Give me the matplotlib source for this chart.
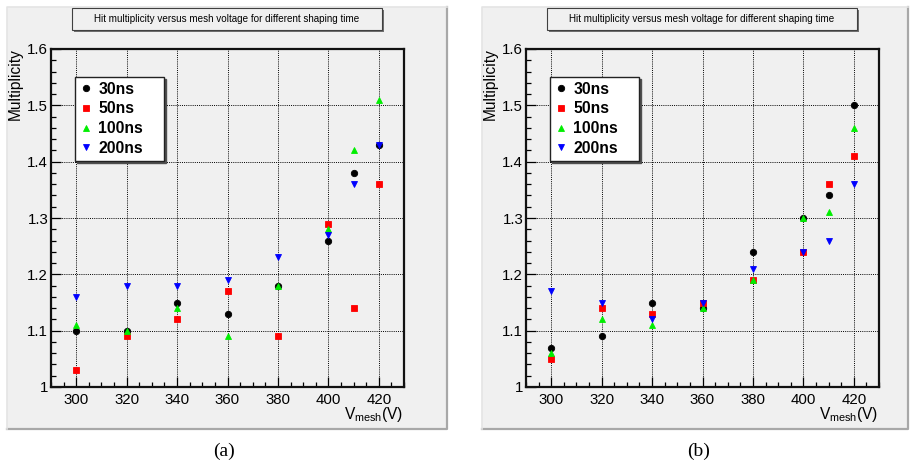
import matplotlib
matplotlib.use("Agg")
import matplotlib.pyplot as plt
from matplotlib.patches import Rectangle
from matplotlib.ticker import MultipleLocator

plt.rcParams['font.family'] = ['Liberation Sans', 'DejaVu Sans']
plt.rcParams['mathtext.fontset'] = 'custom'
plt.rcParams['mathtext.rm'] = 'Liberation Sans'

# Mesh voltages (V)
voltage = [300, 320, 340, 360, 380, 400, 410, 420]

# Panel (a): hit multiplicity per shaping time
a_30ns = [1.10, 1.10, 1.15, 1.13, 1.18, 1.26, 1.38, 1.43]
a_50ns = [1.03, 1.09, 1.12, 1.17, 1.09, 1.29, 1.14, 1.36]
a_100ns = [1.11, 1.10, 1.14, 1.09, 1.18, 1.28, 1.42, 1.51]
a_200ns = [1.16, 1.18, 1.18, 1.19, 1.23, 1.27, 1.36, 1.43]

# Panel (b): hit multiplicity per shaping time
b_30ns = [1.07, 1.09, 1.15, 1.14, 1.24, 1.30, 1.34, 1.50]
b_50ns = [1.05, 1.14, 1.13, 1.15, 1.19, 1.24, 1.36, 1.41]
b_100ns = [1.06, 1.12, 1.11, 1.14, 1.19, 1.30, 1.31, 1.46]
b_200ns = [1.17, 1.15, 1.12, 1.15, 1.21, 1.24, 1.26, 1.36]

series_labels = ['30ns', '50ns', '100ns', '200ns']
title_text = 'Hit multiplicity versus mesh voltage for different shaping time'
captions = ['(a)', '(b)']

W, H = 911, 475
fig = plt.figure(figsize=(W / 100, H / 100), dpi=100)
fig.patch.set_facecolor('white')

CANVAS = '#f0f0f0'
styles = [
    dict(marker='o', color='black', ms=4.6),
    dict(marker='s', color='#ff0000', ms=4.4),
    dict(marker='^', color='#00ee00', ms=3.8),
    dict(marker='v', color='#0000ff', ms=3.8),
]


def px_rect(x0, y0, x1, y1):
    """Figure-fraction rectangle from pixel corners (origin top-left)."""
    return (x0 / W, 1 - y1 / H, (x1 - x0) / W, (y1 - y0) / H)


def draw_panel(offset, canvas_right, data, caption):
    # canvas with bevelled edge
    l, b, w, h = px_rect(7 + offset, 7, canvas_right, 429)
    fig.patches.append(Rectangle((l, b), w, h, transform=fig.transFigure,
                                 facecolor=CANVAS, edgecolor='none', zorder=0))
    fig.lines.append(plt.Line2D([l, l + w, l + w], [b, b, b + h],
                                transform=fig.transFigure, color='#a8a8a8', lw=1.6, zorder=1))
    fig.lines.append(plt.Line2D([l, l, l + w], [b, b + h, b + h],
                                transform=fig.transFigure, color='#e4e4e4', lw=1.2, zorder=1))

    # title box with shadow
    tl, tb, tw, th = px_rect(72 + offset, 8, 382 + offset, 30)
    sdx, sdy = 2 / W, 2 / H
    fig.patches.append(Rectangle((tl + sdx, tb - sdy), tw, th, transform=fig.transFigure,
                                 facecolor='#707070', edgecolor='none', zorder=2))
    fig.patches.append(Rectangle((tl, tb), tw, th, transform=fig.transFigure,
                                 facecolor=CANVAS, edgecolor='#404040', lw=0.8, zorder=3))
    fig.text(tl + tw / 2, tb + th / 2, title_text, ha='center', va='center',
             fontsize=7.1, zorder=4)

    # plotting frame
    ax = fig.add_axes(px_rect(51 + offset, 49, 404 + offset, 387))
    ax.set_facecolor(CANVAS)
    ax.set_zorder(5)
    for s, st, lab in zip(data, styles, series_labels):
        ax.plot(voltage, s, linestyle='none', marker=st['marker'], color=st['color'],
                markersize=st['ms'], markeredgewidth=0.6, label=lab, zorder=4)

    ax.set_xlim(290, 430)
    ax.set_ylim(1.0, 1.6)
    ax.xaxis.set_minor_locator(MultipleLocator(5))
    ax.yaxis.set_minor_locator(MultipleLocator(0.02))
    ax.set_xticks([300, 320, 340, 360, 380, 400, 420])
    ax.set_yticks([1.0, 1.1, 1.2, 1.3, 1.4, 1.5, 1.6])
    ax.set_yticklabels(['1', '1.1', '1.2', '1.3', '1.4', '1.5', '1.6'])
    ax.tick_params(which='both', direction='in', top=False, right=False, colors='black')
    ax.tick_params(which='major', length=7, width=0.9, labelsize=10.8)
    ax.tick_params(which='minor', length=3.6, width=0.9)
    ax.tick_params(axis='y', which='major', pad=2)
    ax.tick_params(axis='x', which='major', pad=4)
    ax.grid(True, which='major', linestyle=(0, (1, 1.2)), color='black', linewidth=0.7)
    for sp in ax.spines.values():
        sp.set_linewidth(1.6)
        sp.set_color('#111111')

    # legend box spanning a fixed region of the frame
    lw_ax = 89 / 353.0
    lh_ax = 84 / 338.0
    leg = ax.legend(loc='upper left', bbox_to_anchor=(0.069, 0.917 - lh_ax, lw_ax, lh_ax),
                    mode='expand', frameon=True, fancybox=False,
                    shadow={'color': '#505050', 'alpha': 1.0, 'ox': 1.5, 'oy': -1.5},
                    prop={'family': 'Liberation Sans', 'weight': 'bold', 'size': 11.3},
                    handlelength=0.7, handletextpad=0.45, borderpad=0.3,
                    labelspacing=0.3, borderaxespad=0, markerscale=1.0)
    leg.get_frame().set_facecolor('white')
    leg.get_frame().set_edgecolor('#222222')
    leg.get_frame().set_linewidth(1.0)

    # axis titles
    fig.text((15 + offset) / W, 1 - 48 / H, 'Multiplicity', rotation=90,
             ha='center', va='top', fontsize=11.2)
    fig.text((403 + offset) / W, 1 - 419 / H, r'V$_{\mathrm{mesh}}$(V)',
             ha='right', va='baseline', fontsize=11.2)

    # panel caption
    fig.text((224 + offset) / W, 1 - 451 / H, caption, ha='center', va='center',
             fontsize=14, family='Liberation Serif')
    return ax


draw_panel(0, 447, [a_30ns, a_50ns, a_100ns, a_200ns], captions[0])
draw_panel(475, 908, [b_30ns, b_50ns, b_100ns, b_200ns], captions[1])

fig.savefig('out.png', dpi=100, facecolor='white')
